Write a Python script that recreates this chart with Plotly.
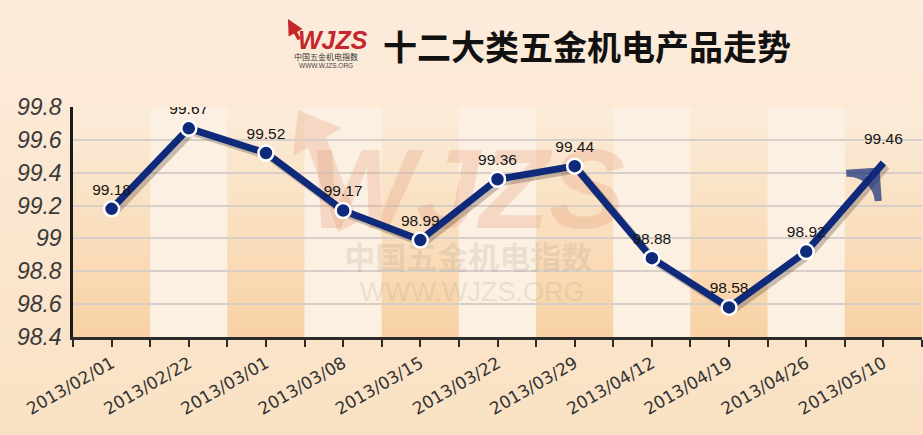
import plotly.graph_objects as go

# ---- data ----
dates = ["2013/02/01", "2013/02/22", "2013/03/01", "2013/03/08", "2013/03/15",
         "2013/03/22", "2013/03/29", "2013/04/12", "2013/04/19", "2013/04/26",
         "2013/05/10"]
values = [99.18, 99.67, 99.52, 99.17, 98.99, 99.36, 99.44, 98.88, 98.58, 98.92, 99.46]
y_ticks = [98.4, 98.6, 98.8, 99.0, 99.2, 99.4, 99.6, 99.8]
y_ticktext = ["98.4", "98.6", "98.8", "99", "99.2", "99.4", "99.6", "99.8"]
title_text = "十二大类五金机电产品走势"

idx = list(range(len(dates)))
n = len(dates)
NAVY = "#0f2a7a"

W, H = 923, 435
L, R, T, B = 73, 1, 107, 98
pw, ph = W - L - R, H - T - B


def hexmix(c1, c2, t):
    a = [int(c1[i:i + 2], 16) for i in (1, 3, 5)]
    b = [int(c2[i:i + 2], 16) for i in (1, 3, 5)]
    return "#%02x%02x%02x" % tuple(round(a[k] + (b[k] - a[k]) * t) for k in range(3))


def px2x(p):
    return (p - L) / pw


def py2y(p):
    return (H - B - p) / ph


shapes = []
# paper background gradient
NS = 24
ytop, ybot = py2y(0), py2y(H)
for k in range(NS):
    y0 = ytop - (ytop - ybot) * k / NS
    y1 = ytop - (ytop - ybot) * (k + 1) / NS
    shapes.append(dict(type="rect", xref="paper", yref="paper", x0=px2x(-5), x1=px2x(W + 5),
                       y0=y1 - 0.004, y1=y0 + 0.001, layer="below", line_width=0,
                       fillcolor=hexmix("#fcecdc", "#fae1c3", (k + 0.5) / NS)))
# alternating column bands
NB = 30
for i in idx:
    if i % 2 == 1:
        shapes.append(dict(type="rect", xref="x", yref="y domain", x0=i - 0.5, x1=i + 0.5,
                           y0=0, y1=1, layer="below", line_width=0, fillcolor="#fcf0e2"))
    else:
        for k in range(NB):
            shapes.append(dict(type="rect", xref="x", yref="y domain", x0=i - 0.5, x1=i + 0.5,
                               y0=1 - (k + 1) / NB - 0.003, y1=1 - k / NB, layer="below",
                               line_width=0,
                               fillcolor=hexmix("#fbecda", "#f8d2a4", (k + 0.5) / NB)))

# watermark arrow (decoration)
wm = "rgba(226,150,120,0.28)"
shapes.append(dict(type="path", xref="paper", yref="paper", layer="below", line_width=0,
                   fillcolor=wm,
                   path="M %f,%f L %f,%f L %f,%f L %f,%f L %f,%f L %f,%f L %f,%f Z" % (
                       px2x(338), py2y(232), px2x(308), py2y(148), px2x(293), py2y(156),
                       px2x(298), py2y(110), px2x(342), py2y(128), px2x(326), py2y(137),
                       px2x(358), py2y(222))))

fig = go.Figure()

# watermark text (behind the line)
fig.add_trace(go.Scatter(
    x=[4.6], y=[99.24], mode="text", text=["<b><i>WJZS</i></b>"], hoverinfo="skip",
    textfont=dict(family="Liberation Sans", size=114, color="rgba(228,150,118,0.28)"),
    showlegend=False))
fig.add_trace(go.Scatter(
    x=[4.62, 4.67], y=[98.86, 98.66], mode="text",
    text=["<b>中国五金机电指数</b>", "WWW.WJZS.ORG"], hoverinfo="skip",
    textfont=dict(family=["Noto Sans CJK SC", "Liberation Sans"], size=[31, 27],
                  color="rgba(170,160,150,0.22)"),
    showlegend=False))

# shadow of the line (overlay axes shifted by a few pixels)
dx = 3 / (pw / n)
dy = 3 / ph * 1.4
fig.add_trace(go.Scatter(
    x=idx, y=values, xaxis="x2", yaxis="y2", mode="lines", hoverinfo="skip",
    line=dict(color="rgba(70,50,30,0.28)", width=8), showlegend=False))

sizes = [15] * (n - 1) + [22]
opac = [1] * (n - 1) + [0]
fig.add_trace(go.Scatter(
    x=idx, y=values, xaxis="x3", yaxis="y3", mode="lines+markers+text",
    text=["%.2f" % v for v in values], textposition="top center",
    textfont=dict(family="Liberation Sans", size=15.5, color="#151515"),
    line=dict(color=NAVY, width=7),
    marker=dict(symbol="circle", size=sizes, color=NAVY, opacity=opac,
                line=dict(color="white", width=2.5)),
    showlegend=False))
# arrow head at the final point, oriented along the last segment
fig.add_trace(go.Scatter(
    x=idx[-2:], y=values[-2:], xaxis="x3", yaxis="y3", mode="markers", hoverinfo="skip",
    marker=dict(symbol="arrow-wide-open", size=[0, 30], color=NAVY, angleref="previous",
                standoff=[0, 11], line=dict(width=7, color=NAVY)),
    showlegend=False))

ax_common = dict(range=[-0.5, n - 0.5], showgrid=False, zeroline=False)
ann_common = dict(xref="paper", yref="paper", xanchor="center", yanchor="middle", showarrow=False)
fig.update_layout(
    width=W, height=H,
    margin=dict(l=L, r=R, t=T, b=B),
    paper_bgcolor="#fbe8d2", plot_bgcolor="rgba(0,0,0,0)",
    shapes=shapes,
    xaxis=dict(**ax_common, tickmode="array", tickvals=idx, ticktext=dates, tickangle=-30,
               ticks="outside", ticklen=7, tickwidth=2, tickcolor="#2b2b2b",
               showline=True, linecolor="#2b2b2b", linewidth=3, automargin=False,
               tickfont=dict(family="DejaVu Sans", size=17, color="#333333"),
               minor=dict(tickvals=[i - 0.5 for i in range(n + 1)], ticks="outside",
                          ticklen=7, tickwidth=2, tickcolor="#2b2b2b")),
    yaxis=dict(range=[98.4, 99.8], tickmode="array", tickvals=y_ticks, ticktext=y_ticktext,
               showgrid=True, gridcolor="#d8d0c8", gridwidth=1.5, zeroline=False,
               showline=True, linecolor="#1a1a1a", linewidth=2.5, ticks="",
               ticklabelstandoff=4, automargin=False,
               tickfont=dict(family="Liberation Sans", size=23, color="#3a3a3a", style="italic")),
    xaxis2=dict(range=[-0.5 - dx, n - 0.5 - dx], overlaying="x", visible=False),
    yaxis2=dict(range=[98.4 + dy, 99.8 + dy], overlaying="y", visible=False),
    xaxis3=dict(range=[-0.5, n - 0.5], overlaying="x", visible=False),
    yaxis3=dict(range=[98.4, 99.8], overlaying="y", visible=False),
    annotations=[
        dict(**ann_common, text="<b>" + title_text + "</b>",
             x=px2x(587), y=py2y(46),
             font=dict(family="Noto Sans CJK SC", size=34, color="#111111")),
        dict(**ann_common, text="<b><i>WJZS</i></b>",
             x=px2x(333), y=py2y(40),
             font=dict(family="Liberation Sans", size=25, color="#c4262b")),
        dict(**ann_common, text="中国五金机电指数",
             x=px2x(326), y=py2y(57),
             font=dict(family="Noto Sans CJK SC", size=8, color="#333333")),
        dict(**ann_common, text="WWW.WJZS.ORG",
             x=px2x(326), y=py2y(66),
             font=dict(family="Liberation Sans", size=6.5, color="#444444")),
        dict(text="", xref="paper", yref="paper", axref="pixel", ayref="pixel",
             x=px2x(288), y=py2y(19), ax=12, ay=22, showarrow=True,
             arrowhead=2, arrowsize=0.9, arrowwidth=3.5, arrowcolor="#c4262b"),
    ],
)

fig.write_html("out.html", post_script="document.body.style.margin='0';",
               config={"displayModeBar": False})
